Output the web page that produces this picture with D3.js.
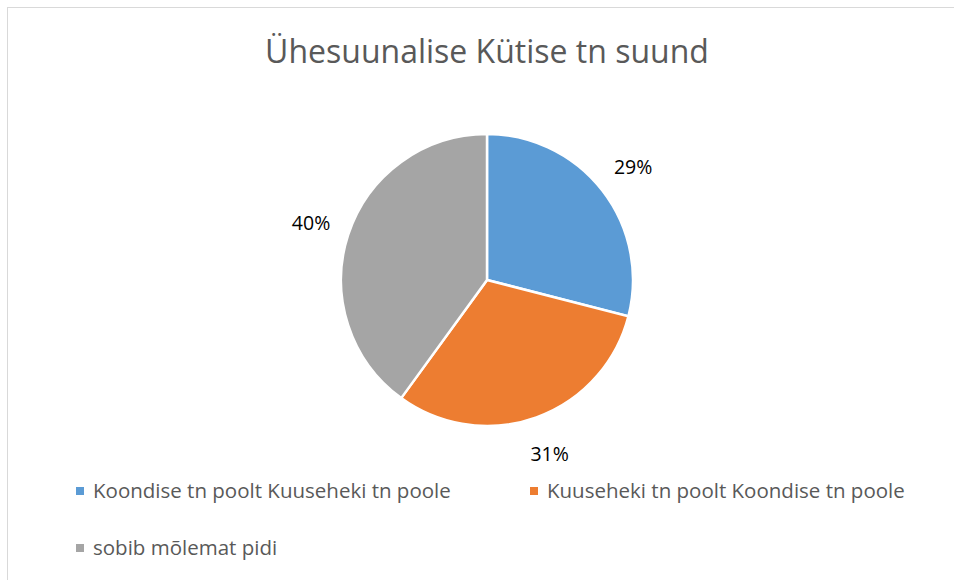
<!DOCTYPE html>
<html>
<head>
<meta charset="utf-8">
<script src="https://cdn.jsdelivr.net/npm/d3@7"></script>
<style>
  body { margin: 0; background: #fff; }
  svg { display: block; }
</style>
</head>
<body>
<div id="chart"></div>
<script>
const title = "Ühesuunalise Kütise tn suund";
const categories = ["Koondise tn poolt Kuuseheki tn poole", "Kuuseheki tn poolt Koondise tn poole", "sobib mõlemat pidi"];
const values = [29, 31, 40];
const colors = ["#5b9bd5", "#ed7d31", "#a5a5a5"];

const W = 954, H = 580;
const cx = 487, cy = 280, r = 146, labelR = 185;
const fontFam = "'Open Sans', 'Liberation Sans', sans-serif";

var svg = d3.select("#chart")
  .append("svg")
  .attr("width", W)
  .attr("height", H);

// outer frame
svg.append("rect")
  .attr("x", 7.5).attr("y", 7.5)
  .attr("width", W).attr("height", H)
  .attr("fill", "#fff")
  .style("stroke", "#d9d9d9")
  .style("stroke-width", 1);

svg.append("text")
  .attr("x", cx).attr("y", 63)
  .attr("text-anchor", "middle")
  .attr("font-family", fontFam)
  .attr("font-size", "32px")
  .attr("fill", "#595959")
  .text(title);

var pie = d3.pie().sort(null).value(d => d);
var arcs = pie(values);
var arc = d3.arc().innerRadius(0).outerRadius(r);
var labelArc = d3.arc().innerRadius(labelR).outerRadius(labelR);
const total = d3.sum(values);

var g = svg.append("g").attr("transform", "translate(" + cx + "," + cy + ")");

g.selectAll("path")
  .data(arcs)
  .enter().append("path")
    .attr("d", arc)
    .attr("fill", (d, i) => colors[i])
    .style("stroke", "#fff")
    .style("stroke-width", 2.5);

g.selectAll("text.pct")
  .data(arcs)
  .enter().append("text")
    .attr("class", "pct")
    .attr("text-anchor", "middle")
    .attr("dy", "0.36em")
    .attr("x", d => labelArc.centroid(d)[0])
    .attr("y", d => labelArc.centroid(d)[1])
    .attr("font-family", fontFam)
    .attr("font-size", "19.5px")
    .attr("fill", "#000")
    .text(d => Math.round(d.value / total * 100) + "%");

// legend
const legendPos = [[76, 487], [530, 487], [76, 544]];
var leg = svg.selectAll("g.leg")
  .data(categories)
  .enter().append("g")
    .attr("class", "leg")
    .attr("transform", (d, i) => "translate(" + legendPos[i][0] + "," + legendPos[i][1] + ")");

leg.append("rect")
  .attr("width", 8).attr("height", 8)
  .attr("fill", (d, i) => colors[i]);

leg.append("text")
  .attr("x", 17).attr("y", 11)
  .attr("font-family", fontFam)
  .attr("font-size", "20.5px")
  .attr("fill", "#595959")
  .text(d => d);
</script>
</body>
</html>
